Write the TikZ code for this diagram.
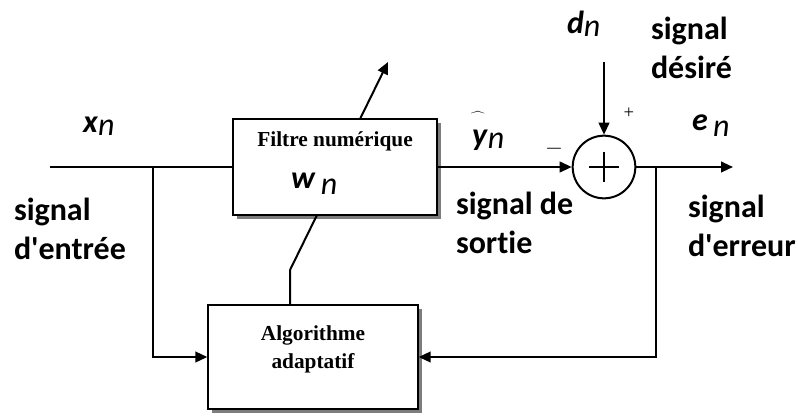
\documentclass[tikz,border=0pt]{standalone}
\usepackage{fontspec}
\setmainfont{Liberation Serif}
\setsansfont{Carlito}[Ligatures={NoCommon}]
\usetikzlibrary{arrows.meta,shadows,positioning}

\newcommand{\signame}[3]{\textbf{\textit{#1}}#2\raisebox{#3}{\textit{n}}}

\tikzset{
    block/.style={draw, line width=1.5pt, fill=white, rectangle,
        drop shadow={shadow xshift=3pt, shadow yshift=-3pt, fill=black!60, opacity=.85}},
    sumnode/.style={draw, line width=1.5pt, circle, minimum size=47pt, inner sep=0pt},
    lbl/.style={font=\sffamily\bfseries\fontsize{24}{29}\selectfont, align=left, inner sep=0pt},
    sig/.style={font=\sffamily\fontsize{24}{28}\selectfont, inner sep=0pt, anchor=base west},
    boxtext/.style={font=\bfseries\fontsize{16}{21}\selectfont, align=center, inner sep=0pt},
}

\begin{document}
\begin{tikzpicture}[x=0.75pt, y=-0.75pt, line width=1.5pt, >={Triangle[length=9pt,width=8pt]}]
    \useasboundingbox (0,0) rectangle (798,418);

    % Blocks
    \node[block, minimum width=153pt, minimum height=72pt] (filt) at (335,167) {};
    \node[block, minimum width=157pt, minimum height=78pt] (algo) at (313,357) {};
    \node[sumnode] (sum) at (604,167) {};
    \draw (sum.center) ++(-15,0) -- ++(30,0);
    \draw (sum.center) ++(0,-15) -- ++(0,30);

    % Box texts
    \node[boxtext] (filttxt) at (335,141) {Filtre numérique};
    \node[sig] (wn) at (290,188) {\signame{w}{\,}{-0.45ex}};
    \node[boxtext] (algotxt) at (313,349) {Algorithme\\adaptatif};

    % Points
    \coordinate (xin) at (50,167);
    \coordinate (bin) at (153,167);
    \coordinate (din) at (604,62);
    \coordinate (eout) at (733,167);
    \coordinate (bout) at (656,167);
    \coordinate (wtap) at (317,215);
    \coordinate (knee) at (290,270);
    \coordinate (tiltA) at (360,119);
    \coordinate (tiltB) at (388,62);

    % Signal paths
    \draw (xin) -- (filt.west);
    \draw[->] (bin) |- (algo.west);
    \draw[->] (filt.east) -- (sum.west);
    \draw[->] (din) -- (sum.north);
    \draw[->] (sum.east) -- (eout);
    \draw[->] (bout) |- (algo.east);
    \draw (wtap) -- (knee) -- (knee |- algo.north);
    \draw[->] (tiltA) -- (tiltB);

    % Labels
    \node[sig] (xn) at (82,132) {\signame{x}{}{-0.25ex}};
    \node[lbl, anchor=north west] (sigin) at (13,197) {signal\\d\textquotesingle entrée};
    \node[sig] (yn) at (471,145) {\signame{y}{}{-0.25ex}};
    \node[font=\fontsize{24}{28}\selectfont, inner sep=0pt] (yhat) at (478,124) {$\widehat{\phantom{y}}$};
    \node[font=\fontsize{18}{20}\selectfont, inner sep=0pt] (minus) at (554,149) {$-$};
    \node[lbl, anchor=north west] (sigout) at (455,191) {signal de\\sortie};
    \node[font=\fontsize{14}{16}\selectfont, inner sep=0pt] (plus) at (629,113) {+};
    \node[sig] (dn) at (566,33) {\signame{d}{}{-0.25ex}};
    \node[lbl, anchor=north west] (sigdes) at (650,16) {signal\\désiré};
    \node[sig] (en) at (691,130) {\signame{e}{\,}{-0.45ex}};
    \node[lbl, anchor=north west] (sigerr) at (687,194) {signal\\d\textquotesingle erreur};
\end{tikzpicture}
\end{document}
